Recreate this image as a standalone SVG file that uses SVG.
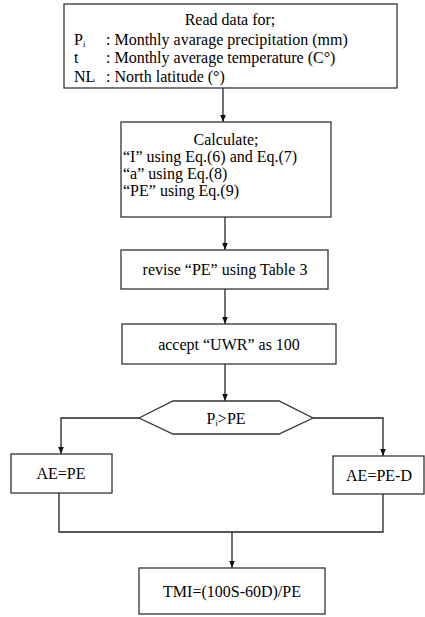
<svg xmlns="http://www.w3.org/2000/svg" width="425" height="617" viewBox="0 0 425 617">
<defs>
<style>
.box{fill:#fff;stroke:#333;stroke-width:1.3}
.t{font-size:16px;fill:#000}
.c{text-anchor:middle}
.ln{fill:none;stroke:#222;stroke-width:1.3}
</style>
<marker id="ah" viewBox="0 0 10 10" refX="10" refY="5" markerWidth="7" markerHeight="7" orient="auto" markerUnits="userSpaceOnUse">
<path d="M0,1 L10,5 L0,9 z" fill="#111"/>
</marker>
</defs>
<rect width="425" height="617" fill="#fff"/>
<g id="connectors">
<line class="ln" x1="223" y1="88" x2="223" y2="122" marker-end="url(#ah)"/>
<line class="ln" x1="225" y1="217" x2="225" y2="250" marker-end="url(#ah)"/>
<line class="ln" x1="225" y1="289" x2="225" y2="324" marker-end="url(#ah)"/>
<line class="ln" x1="225" y1="364" x2="225" y2="401" marker-end="url(#ah)"/>
<polyline class="ln" points="139,418 61,418 61,454" marker-end="url(#ah)"/>
<polyline class="ln" points="313,418 383,418 383,456" marker-end="url(#ah)"/>
<polyline class="ln" points="59,493 59,532 383,532 383,494"/>
<line class="ln" x1="232" y1="532" x2="232" y2="568" marker-end="url(#ah)"/>
</g>
<g font-family="'Liberation Serif', 'Times New Roman', 'DejaVu Serif', serif">
<g id="n1">
<rect class="box" x="64" y="4" width="333" height="84"/>
<text class="t c" x="230" y="25">Read data for;</text>
<text class="t" x="74" y="45">P<tspan font-size="9" dy="2">i</tspan></text>
<text class="t" x="106" y="45">: Monthly avarage precipitation (mm)</text>
<text class="t" x="74" y="63">t</text>
<text class="t" x="106" y="63">: Monthly average temperature (C°)</text>
<text class="t" x="74" y="82">NL</text>
<text class="t" x="106" y="82">: North latitude (°)</text>
</g>
<g id="n2">
<rect class="box" x="121" y="122" width="210" height="95"/>
<text class="t c" x="226" y="145">Calculate;</text>
<text class="t" x="123" y="162">“I” using Eq.(6) and Eq.(7)</text>
<text class="t" x="123" y="179">“a” using Eq.(8)</text>
<text class="t" x="123" y="196">“PE” using Eq.(9)</text>
</g>
<g id="n3">
<rect class="box" x="121" y="250" width="207" height="39"/>
<text class="t c" x="225" y="275">revise “PE” using Table 3</text>
</g>
<g id="n4">
<rect class="box" x="122" y="324" width="214" height="40"/>
<text class="t c" x="229" y="350">accept  “UWR” as 100</text>
</g>
<g id="n5">
<polygon class="box" points="139,418 173,401 279,401 313,418 279,434 173,434"/>
<text class="t c" x="226" y="424">P<tspan font-size="9" dy="2">i</tspan><tspan dy="-2">&gt;PE</tspan></text>
</g>
<g id="n6">
<rect class="box" x="11" y="454" width="101" height="39"/>
<text class="t c" x="61" y="479">AE=PE</text>
</g>
<g id="n7">
<rect class="box" x="333" y="456" width="91" height="38"/>
<text class="t c" x="379" y="481">AE=PE-D</text>
</g>
<g id="n8">
<rect class="box" x="139" y="568" width="186" height="46"/>
<text class="t c" x="232" y="597">TMI=(100S-60D)/PE</text>
</g>
</g>
</svg>
